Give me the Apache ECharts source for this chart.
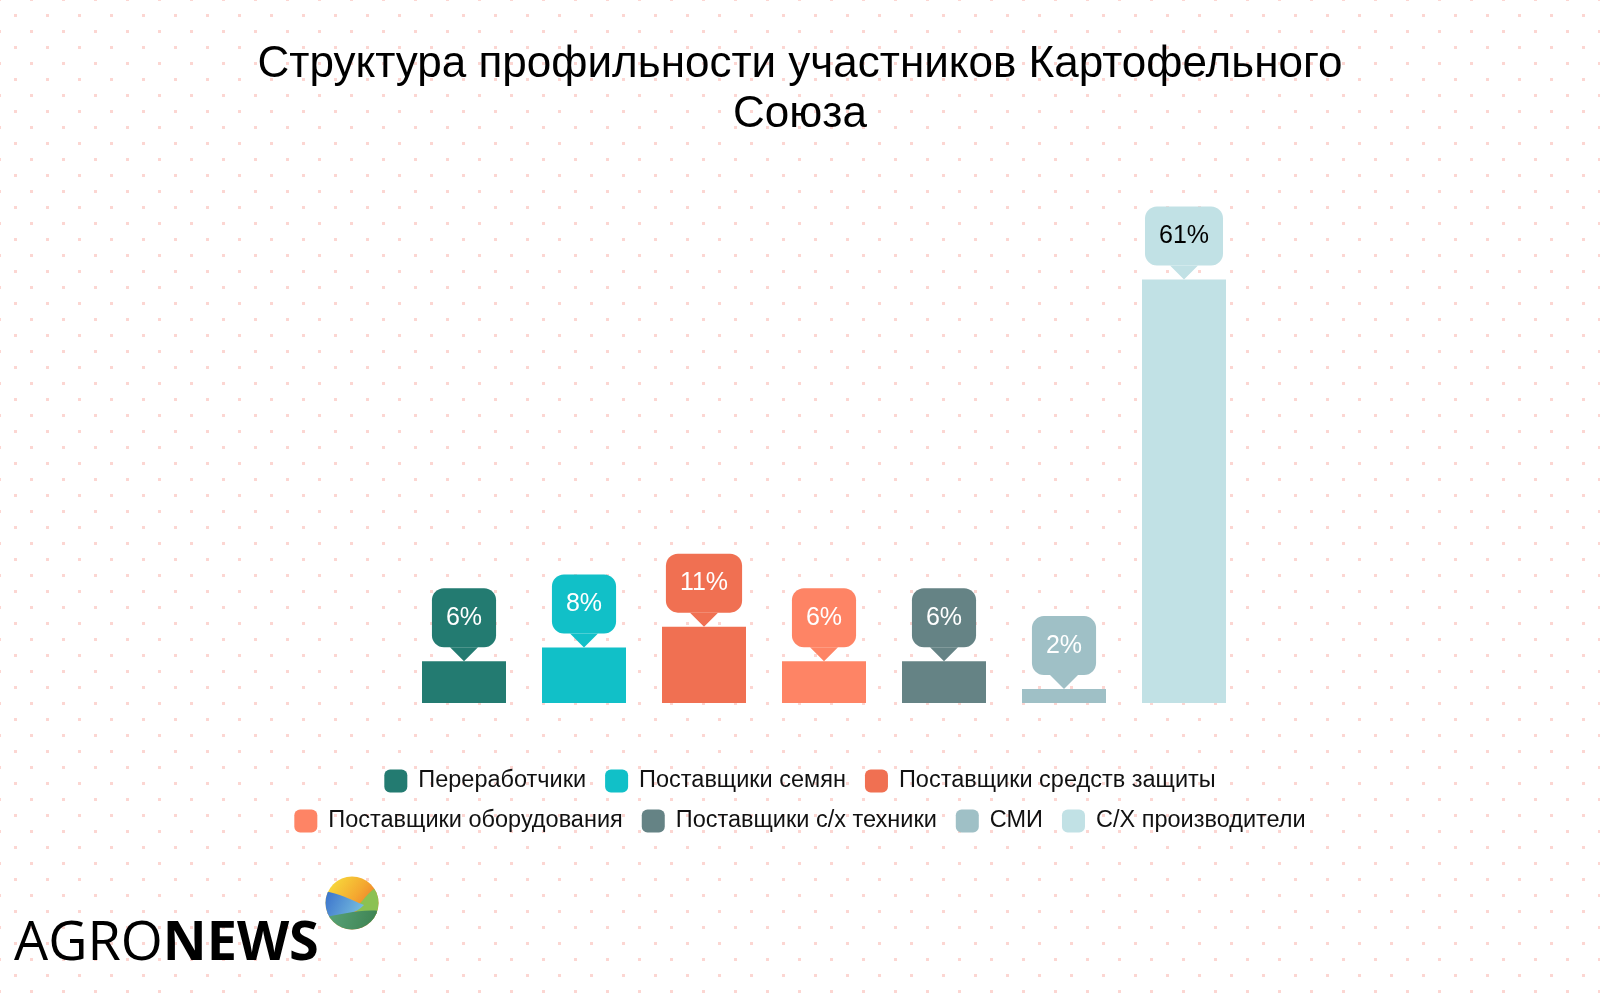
<!DOCTYPE html>
<html>
<head>
<meta charset="utf-8">
<script src="https://cdn.jsdelivr.net/npm/echarts@6/dist/echarts.min.js"></script>
<style>
html,body{margin:0;padding:0;background:#fff;}
#chart{width:1600px;height:1006px;}
</style>
</head>
<body>
<div id="chart"></div>
<script>
const categories = ['Переработчики','Поставщики семян','Поставщики средств защиты','Поставщики оборудования','Поставщики с/х техники','СМИ','С/Х производители'];
const values = [6, 8, 11, 6, 6, 2, 61];
const colors = ['#237b71','#11c0c8','#f07052','#fe8465','#658385','#9fc0c6','#c1e1e5'];
const labelColors = ['#fff','#fff','#fff','#fff','#fff','#fff','#000'];
const legendRow1 = categories.slice(0,3);
const legendRow2 = categories.slice(3);
const titleLines = ['Структура профильности участников Картофельного', 'Союза'];

// dotted background pattern
const cv = document.createElement('canvas');
cv.width = 32; cv.height = 32;
const cx = cv.getContext('2d');
cx.fillStyle = '#fff';
cx.fillRect(0,0,32,32);
cx.fillStyle = '#fcd6d2';
cx.fillRect(14,14,3,3);
[[-2,-2],[30,-2],[-2,30],[30,30]].forEach(p => cx.fillRect(p[0],p[1],3,3));

// globe logo drawn on a canvas
const gv = document.createElement('canvas');
gv.width = 56; gv.height = 56;
const g = gv.getContext('2d');
g.save();
g.beginPath(); g.arc(28,28,26.5,0,Math.PI*2); g.clip();
let gr = g.createLinearGradient(10,0,50,30);
gr.addColorStop(0,'#f7dc3c'); gr.addColorStop(0.6,'#f4a830'); gr.addColorStop(1,'#ee7a2a');
g.fillStyle = gr; g.fillRect(0,0,56,56);
g.fillStyle = '#8cc152';
g.beginPath(); g.moveTo(56,10); g.bezierCurveTo(44,16,40,26,30,34); g.lineTo(56,56); g.closePath(); g.fill();
gr = g.createLinearGradient(0,20,40,40);
gr.addColorStop(0,'#3a72cc'); gr.addColorStop(1,'#7cc4e0');
g.fillStyle = gr;
g.beginPath(); g.moveTo(0,16); g.bezierCurveTo(14,18,26,24,40,30); g.bezierCurveTo(30,40,14,44,0,42); g.closePath(); g.fill();
gr = g.createLinearGradient(0,40,56,56);
gr.addColorStop(0,'#5aa57a'); gr.addColorStop(1,'#3b7f4e');
g.fillStyle = gr;
g.beginPath(); g.moveTo(0,42); g.bezierCurveTo(18,40,34,34,56,36); g.lineTo(56,56); g.lineTo(0,56); g.closePath(); g.fill();
g.restore();

const font = 'Liberation Sans, Arial, sans-serif';

const series = categories.map((name, i) => ({
  name: name,
  type: 'bar',
  barWidth: 84,
  barGap: '-100%',
  itemStyle: { color: colors[i] },
  data: categories.map((c, j) => j === i ? values[i] : '-'),
  label: {
    show: true,
    position: 'top',
    distance: 14,
    formatter: '{c}%',
    color: labelColors[i],
    fontSize: 25,
    fontFamily: font,
    backgroundColor: colors[i],
    borderRadius: 12,
    padding: [0, 14],
    lineHeight: 59
  },
  markPoint: {
    symbol: 'path://M0,0L28,0L14,14Z',
    symbolSize: [28, 14],
    symbolOffset: [0, -7],
    itemStyle: { color: colors[i] },
    label: { show: false },
    silent: true,
    data: [{ coord: [name, values[i]] }]
  }
}));

const legendBase = { left: 'center', itemWidth: 23, itemHeight: 23, itemGap: 19, icon: 'roundRect',
  textStyle: { fontSize: 23.5, fontFamily: font, color: '#111', padding: [0, 0, 0, 6] } };

const chart = echarts.init(document.getElementById('chart'));
chart.setOption({
  backgroundColor: { image: cv, repeat: 'repeat' },
  animation: false,
  grid: { left: 404, width: 840, top: 217, bottom: 303 },
  xAxis: { type: 'category', data: categories, show: false },
  yAxis: { type: 'value', min: 0, max: 70, show: false },
  legend: [
    Object.assign({ data: legendRow1, top: 764 }, legendBase),
    Object.assign({ data: legendRow2, top: 804 }, legendBase)
  ],
  series: series,
  graphic: [
    { type: 'text', x: 800, y: 65,
      style: { text: titleLines[0], align: 'center', verticalAlign: 'middle', fontSize: 44, fontFamily: font, fill: '#000' } },
    { type: 'text', x: 800, y: 115,
      style: { text: titleLines[1], align: 'center', verticalAlign: 'middle', fontSize: 44, fontFamily: font, fill: '#000' } },
    { type: 'text', left: 14, top: 918,
      style: { text: '{a|AGRO}{b|NEWS}', rich: {
        a: { fontSize: 54, fontFamily: 'Open Sans', fontWeight: 'normal', fill: '#000' },
        b: { fontSize: 54, fontFamily: 'Open Sans', fontWeight: 'bold', fill: '#000' } } } },
    { type: 'image', left: 324, top: 875, style: { image: gv, width: 56, height: 56 } }
  ]
});
</script>
</body>
</html>
